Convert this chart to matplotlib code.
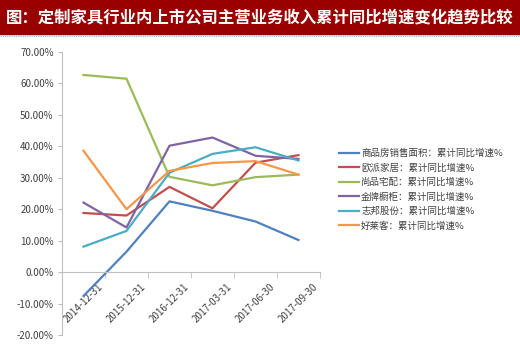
import matplotlib
matplotlib.use("Agg")
import matplotlib.pyplot as plt
import numpy as np
from matplotlib.patches import Rectangle
from matplotlib.lines import Line2D

plt.rcParams["font.family"] = ["Noto Sans CJK SC", "DejaVu Sans"]

title = "图：定制家具行业内上市公司主营业务收入累计同比增速变化趋势比较"
dates = ["2014-12-31", "2015-12-31", "2016-12-31", "2017-03-31", "2017-06-30", "2017-09-30"]

house_area = [-7.6, 6.5, 22.5, 19.5, 16.1, 10.2]
oppein = [18.8, 18.0, 27.1, 20.3, 34.8, 37.2]
shangpin = [62.7, 61.5, 30.3, 27.6, 30.2, 31.0]
goldenhome = [22.1, 14.2, 40.2, 42.8, 37.0, 36.0]
zbom = [8.1, 13.1, 31.6, 37.6, 39.7, 35.5]
holike = [38.6, 20.0, 32.2, 34.7, 35.3, 31.0]

series = [
    ("商品房销售面积：累计同比增速%", house_area, "#4F81BD"),
    ("欧派家居：累计同比增速%", oppein, "#C0504D"),
    ("尚品宅配：累计同比增速%", shangpin, "#9BBB59"),
    ("金牌橱柜：累计同比增速%", goldenhome, "#8064A2"),
    ("志邦股份：累计同比增速%", zbom, "#4BACC6"),
    ("好莱客：累计同比增速%", holike, "#F79646"),
]

W, H = 520, 351
fig = plt.figure(figsize=(W / 100, H / 100), dpi=100)

# title bar
fig.patches.append(Rectangle((0, 1 - 34 / H), 1, 34 / H, transform=fig.transFigure,
                             color="#990000", zorder=0))
fig.add_artist(Line2D([0, 1], [1 - 35.5 / H] * 2, transform=fig.transFigure,
                      color="#9fb4d8", lw=0.8, ls=(0, (1, 1))))
fig.text(0.5, 1 - 17 / H, title, color="white", fontsize=11.8, fontweight="bold",
         ha="center", va="center")

ax = fig.add_axes([62 / W, (H - 335) / H, (320 - 62) / W, (335 - 52) / H])
x = np.arange(len(dates))
for label, vals, col in series:
    ax.plot(x, vals, color=col, lw=1.6, label=label)

ax.set_xlim(-0.5, len(dates) - 0.5)
ax.set_ylim(-20, 70)
ax.set_yticks(np.arange(-20, 71, 10))
ax.set_yticklabels([f"{v:.2f}%" for v in np.arange(-20, 71, 10)])
ax.set_xticks(x)
ax.set_xticklabels(dates)
ax.set_xticks(np.arange(-0.5, len(dates), 1), minor=True)
ax.tick_params(axis="x", which="major", length=0, pad=7, labelsize=7,
               colors="#404040", labelrotation=45)
ax.tick_params(axis="x", which="minor", length=4, color="#bfbfbf")
ax.tick_params(axis="y", length=3, color="#bfbfbf", labelsize=7, labelcolor="#404040", pad=3)
for lab in ax.get_xticklabels():
    lab.set_ha("right")
    lab.set_va("top")
    lab.set_rotation_mode("anchor")

for s in ["top", "right"]:
    ax.spines[s].set_visible(False)
ax.spines["bottom"].set_position(("data", 0))
ax.spines["bottom"].set_color("#bfbfbf")
ax.spines["left"].set_color("#bfbfbf")

ax.legend(loc="upper left", bbox_to_anchor=(330 / W, 1 - 140 / H),
          bbox_transform=fig.transFigure, frameon=False, fontsize=6.8,
          handlelength=2.2, handletextpad=0.2, labelspacing=0.55,
          labelcolor="#404040")

fig.savefig("out.png", dpi=100)
